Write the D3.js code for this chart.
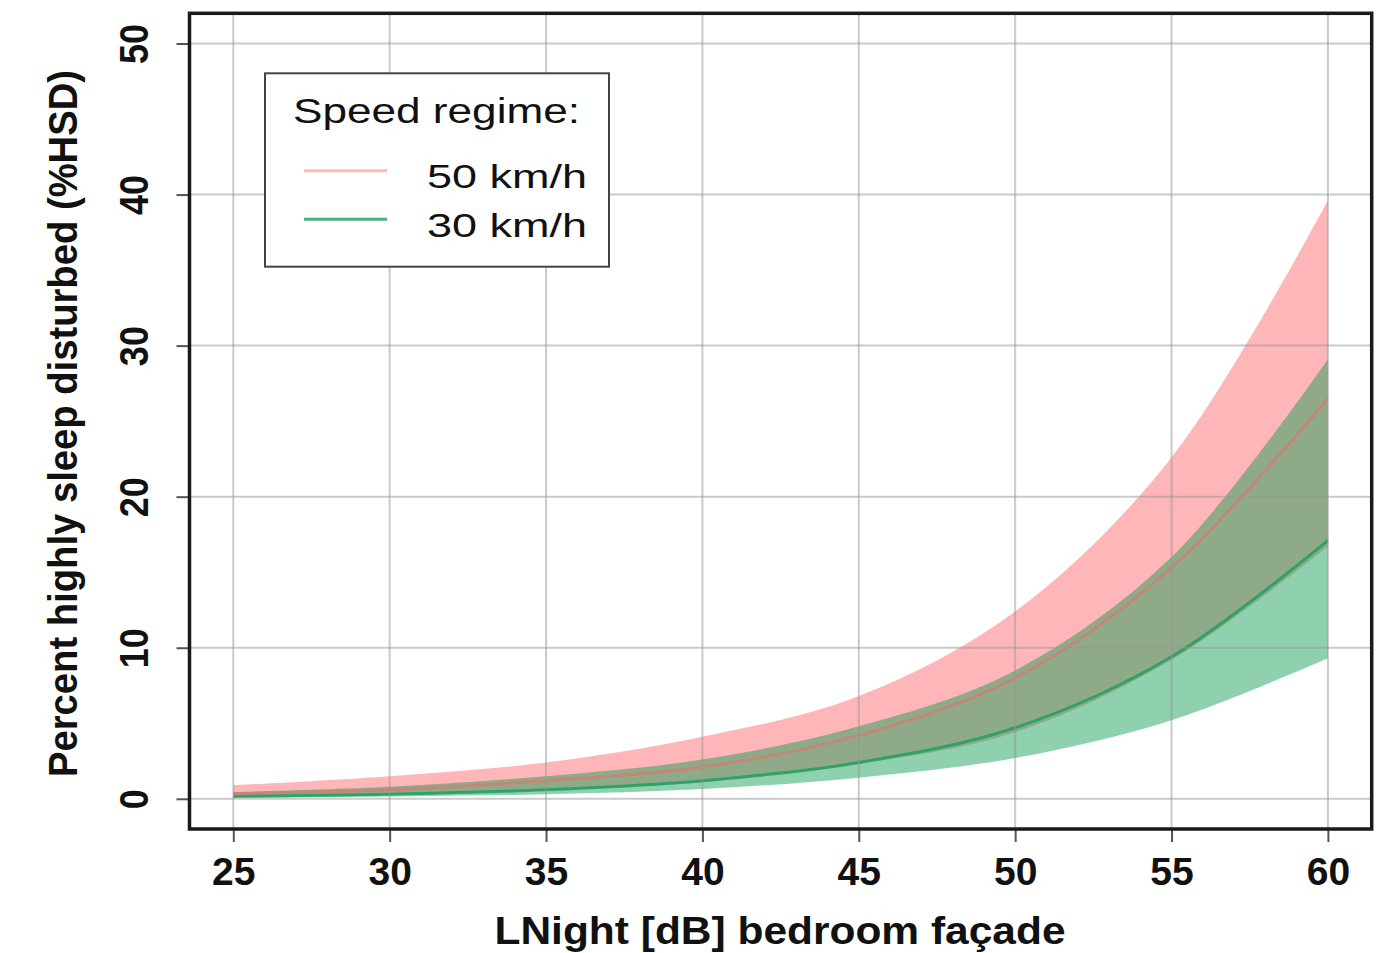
<!DOCTYPE html>
<html>
<head>
<meta charset="utf-8">
<script src="https://cdn.jsdelivr.net/npm/d3@7"></script>
<style>
  body { margin: 0; background: #fff; }
  text { font-family: "Liberation Sans", Arial, sans-serif; fill: #111; }
</style>
</head>
<body>
<div id="wrapper"></div>
<script>
// values
const lnight = [25, 30, 35, 40, 45, 50, 55, 60]

const hsd50 = [0.35, 0.6, 1.2, 2.1, 4.2, 8.0, 15.3, 26.5]
const hsd50Low = [0.12, 0.25, 0.55, 1.1, 2.3, 4.4, 9.2, 16.7]
const hsd50High = [0.9, 1.5, 2.4, 4.1, 6.8, 12.4, 22.6, 39.6]

const hsd30 = [0.15, 0.3, 0.6, 1.2, 2.4, 4.7, 9.4, 17.1]
const hsd30Low = [0.07, 0.15, 0.3, 0.65, 1.4, 2.7, 5.2, 9.3]
const hsd30High = [0.45, 0.8, 1.5, 2.6, 4.8, 8.5, 16.0, 29.1]

const xTicks = [25, 30, 35, 40, 45, 50, 55, 60]
const yTicks = [0, 10, 20, 30, 40, 50]
const legendLabels = ["50 km/h", "30 km/h"]

function drawChart() {

  // 1. Access data
  const rows50 = lnight.map((x, i) => ({x: x, y: hsd50[i], lo: hsd50Low[i], hi: hsd50High[i]}))
  const rows30 = lnight.map((x, i) => ({x: x, y: hsd30[i], lo: hsd30Low[i], hi: hsd30High[i]}))
  const xAccessor = d => d.x
  const yAccessor = d => d.y

  // 2. Create chart dimensions
  let dimensions = {
    width: 1394,
    height: 953,
    left: 189.5,
    right: 1371.7,
    top: 13.3,
    bottom: 829,
  }

  // 3. Draw canvas
  const wrapper = d3.select("#wrapper")
    .append("svg")
      .attr("width", dimensions.width)
      .attr("height", dimensions.height)
      .style("display", "block")

  wrapper.append("rect")
    .attr("width", dimensions.width)
    .attr("height", dimensions.height)
    .attr("fill", "#fff")

  // 4. Create scales (R style 4% padding)
  const xScale = d3.scaleLinear()
    .domain([23.6, 61.4])
    .range([dimensions.left, dimensions.right])

  const yScale = d3.scaleLinear()
    .domain([-2, 52])
    .range([dimensions.bottom, dimensions.top])

  // 5. Draw data
  const curve = d3.curveCatmullRom.alpha(0.5)

  const bandGenerator = d3.area()
    .x(d => xScale(xAccessor(d)))
    .y0(d => yScale(d.lo))
    .y1(d => yScale(d.hi))
    .curve(curve)

  const lineGenerator = d3.line()
    .x(d => xScale(xAccessor(d)))
    .y(d => yScale(yAccessor(d)))
    .curve(curve)

  const red50Fill = "#ffb6b8"
  const green30Fill = "rgba(17,157,83,0.47)"
  const red50Line = "rgba(255,95,95,0.45)"
  const green30Line = "rgba(25,160,95,0.8)"

  wrapper.append("path")
    .attr("d", bandGenerator(rows50))
    .attr("fill", red50Fill)

  wrapper.append("path")
    .attr("d", bandGenerator(rows30))
    .attr("fill", green30Fill)

  wrapper.append("path")
    .attr("d", lineGenerator(rows50))
    .attr("fill", "none")
    .attr("stroke", red50Line)
    .attr("stroke-width", 3)

  wrapper.append("path")
    .attr("d", lineGenerator(rows30))
    .attr("fill", "none")
    .attr("stroke", green30Line)
    .attr("stroke-width", 3)

  // grid on top, like grid() after polygon()
  const grid = wrapper.append("g")
    .attr("stroke", "rgba(150,150,150,0.5)")
    .attr("stroke-width", 2)
  grid.selectAll(".vgrid").data(xTicks).join("line")
    .attr("x1", d => xScale(d)).attr("x2", d => xScale(d))
    .attr("y1", dimensions.top).attr("y2", dimensions.bottom)
  grid.selectAll(".hgrid").data(yTicks).join("line")
    .attr("x1", dimensions.left).attr("x2", dimensions.right)
    .attr("y1", d => yScale(d)).attr("y2", d => yScale(d))

  // 6. Draw peripherals
  const xAxisGenerator = d3.axisBottom()
    .scale(xScale)
    .tickValues(xTicks)
    .tickSize(13)

  const xAxis = wrapper.append("g")
    .attr("transform", `translate(0,${dimensions.bottom})`)
    .call(xAxisGenerator)
  xAxis.select(".domain").remove()
  xAxis.selectAll("line").attr("stroke", "#555").attr("stroke-width", 2)
  xAxis.selectAll("text")
    .attr("y", 56)
    .attr("dy", 0)
    .style("font-size", "39px")
    .style("font-weight", "bold")
    .style("font-family", "'Liberation Sans', Arial, sans-serif")
    .attr("fill", "#111")

  const yAxisGenerator = d3.axisLeft()
    .scale(yScale)
    .tickValues(yTicks)
    .tickSize(13)

  const yAxis = wrapper.append("g")
    .attr("transform", `translate(${dimensions.left},0)`)
    .call(yAxisGenerator)
  yAxis.select(".domain").remove()
  yAxis.selectAll("line").attr("stroke", "#555").attr("stroke-width", 2)
  yAxis.selectAll("text")
    .attr("x", 0)
    .attr("dy", 0)
    .style("text-anchor", "middle")
    .attr("transform", "translate(-42,0) rotate(-90) scale(0.9,1)")
    .style("font-size", "40px")
    .style("font-weight", "bold")
    .style("font-family", "'Liberation Sans', Arial, sans-serif")
    .attr("fill", "#111")

  // box around the plot
  wrapper.append("rect")
    .attr("x", dimensions.left)
    .attr("y", dimensions.top)
    .attr("width", dimensions.right - dimensions.left)
    .attr("height", dimensions.bottom - dimensions.top)
    .attr("fill", "none")
    .attr("stroke", "#1a1a1a")
    .attr("stroke-width", 3.5)

  // axis titles
  wrapper.append("text")
    .attr("x", 780)
    .attr("y", 944)
    .attr("text-anchor", "middle")
    .attr("textLength", 571)
    .attr("lengthAdjust", "spacingAndGlyphs")
    .style("font-size", "38.5px")
    .style("font-weight", "bold")
    .text("LNight [dB] bedroom façade")

  wrapper.append("text")
    .attr("transform", "translate(77,423.5) rotate(-90)")
    .attr("text-anchor", "middle")
    .attr("textLength", 707)
    .attr("lengthAdjust", "spacingAndGlyphs")
    .style("font-size", "41px")
    .style("font-weight", "bold")
    .text("Percent highly sleep disturbed (%HSD)")

  // legend
  const legendGroup = wrapper.append("g")
  legendGroup.append("rect")
    .attr("x", 265)
    .attr("y", 73.3)
    .attr("width", 344)
    .attr("height", 193.4)
    .attr("fill", "#fff")
    .attr("stroke", "#444")
    .attr("stroke-width", 2)

  legendGroup.append("text")
    .attr("x", 293)
    .attr("y", 123)
    .attr("textLength", 287)
    .attr("lengthAdjust", "spacingAndGlyphs")
    .style("font-size", "35px")
    .text("Speed regime:")

  const legendColors = [red50Line, green30Line]
  const legendY = [170.7, 219.3]
  legendLabels.forEach((label, i) => {
    legendGroup.append("line")
      .attr("x1", 304).attr("x2", 387)
      .attr("y1", legendY[i]).attr("y2", legendY[i])
      .attr("stroke", legendColors[i])
      .attr("stroke-width", 3)
    legendGroup.append("text")
      .attr("x", 427)
      .attr("y", legendY[i] + 17.5)
      .attr("textLength", 160)
      .attr("lengthAdjust", "spacingAndGlyphs")
      .style("font-size", "34px")
      .text(label)
  })
}
drawChart()
</script>
</body>
</html>
